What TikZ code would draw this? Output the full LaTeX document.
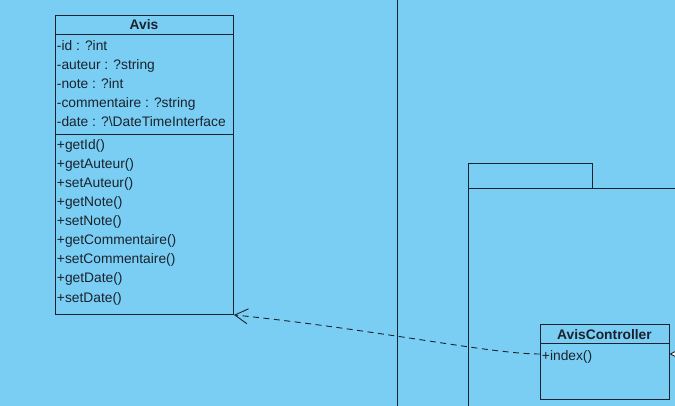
\documentclass[tikz,border=0pt]{standalone}
\usepackage{fontspec}
\setmainfont{Liberation Sans}
\usetikzlibrary{arrows.meta}

\definecolor{bgblue}{RGB}{122,206,244}
\definecolor{umlink}{RGB}{25,35,45}

\begin{document}
\begin{tikzpicture}[x=1pt, y=-1pt, line width=0.9pt, color=umlink,
    classbox/.style={draw=umlink, inner sep=0pt, anchor=north west},
    member/.style={anchor=west, inner sep=0pt, text height=10pt, text depth=3pt, font=\fontsize{13.8}{16}\selectfont},
    classname/.style={member, anchor=center, font=\bfseries\fontsize{13.8}{16}\selectfont}]
    % Frame and background
    \useasboundingbox (0,0) rectangle (675,406);
    \clip (0,0) rectangle (675,406);
    \fill[bgblue] (0,0) rectangle (675,406);

    % Lane line and package
    \draw (397,-5) -- (397,420);
    \draw (468,163) rectangle (592,188);
    \draw (468,420) -- (468,188) -- (700,188);

    % Class Avis
    \node[classbox, minimum width=178pt, minimum height=299pt] (avis) at (55,15) {};
    \node[classname] (avisname) at (144,26) {Avis};
    \draw (55,34) -- (233,34);
    \draw (55,134) -- (233,134);
    \foreach \a [count=\i from 0] in {id : ?int, auteur : ?string, note : ?int, commentaire : ?string, date : ?\textbackslash DateTimeInterface}
        \node[member] (attr\i) at (56.5, 47.5+19*\i) {-\a};
    \foreach \m [count=\i from 0] in {getId(), getAuteur(), setAuteur(), getNote(), setNote(), getCommentaire(), setCommentaire(), getDate(), setDate()}
        \node[member] (meth\i) at (56.5, 146.5+19*\i) {+\m};

    % Class AvisController
    \node[classbox, minimum width=129pt, minimum height=75pt] (ctrl) at (540,324) {};
    \node[classname] (ctrlname) at (604.5,335.5) {AvisController};
    \draw (540,343) -- (669,343);
    \node[member] (index) at (541.5,357) {+index()};

    % Dependency
    \coordinate (dep) at (540,354);
    \draw[dash pattern=on 6pt off 4.5pt, -{Straight Barb[length=13pt, width=15pt]}]
        (dep) .. controls (490,354) and (380,330) .. (avis.south east);

    % Realization coming from the right
    \coordinate (ext) at (700,354);
    \coordinate (ctrltip) at (669.5,354);
    \draw[-{Triangle[open, fill=white, length=12pt, width=12pt]}] (ext) -- (ctrltip);
\end{tikzpicture}
\end{document}
